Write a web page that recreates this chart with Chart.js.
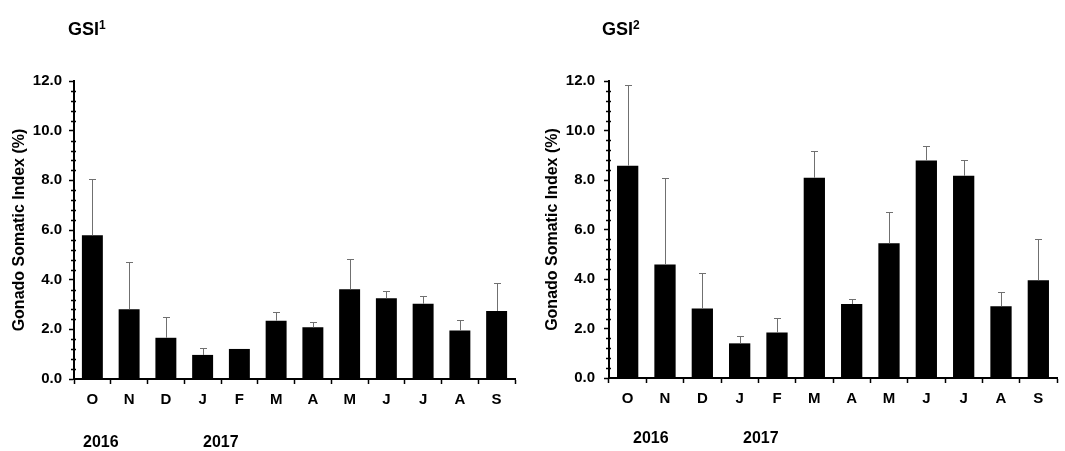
<!DOCTYPE html>
<html>
<head>
<meta charset="utf-8">
<script src="https://cdn.jsdelivr.net/npm/chart.js@4"></script>
<style>
  body { margin: 0; background: #fff; width: 1065px; height: 451px; position: relative; overflow: hidden; }
  canvas { position: absolute; top: 0; }
  .lbl { position: absolute; font-family: "Liberation Sans", Arial, sans-serif; font-weight: bold; color: #000; white-space: nowrap; line-height: 1; }
  .ttl { font-size: 18px; }
  .ttl sup { font-size: 12px; vertical-align: 6px; line-height: 0; }
  .yr { font-size: 16px; }
</style>
</head>
<body>
<canvas id="gsi1" width="530" height="451" style="left:0"></canvas>
<canvas id="gsi2" width="535" height="451" style="left:530px"></canvas>

<div class="lbl ttl" style="left:68px; top:20px">GSI<sup>1</sup></div>
<div class="lbl ttl" style="left:602px; top:20px">GSI<sup>2</sup></div>
<div class="lbl yr" style="left:83px; top:434px">2016</div>
<div class="lbl yr" style="left:203px; top:434px">2017</div>
<div class="lbl yr" style="left:633px; top:430px">2016</div>
<div class="lbl yr" style="left:743px; top:430px">2017</div>

<script>
const months = ['O', 'N', 'D', 'J', 'F', 'M', 'A', 'M', 'J', 'J', 'A', 'S'];
const yTicks = [0, 2, 4, 6, 8, 10, 12];

// mean GSI and upper standard deviation, Oct 2016 - Sep 2017
const gsi1 = [5.79, 2.81, 1.66, 0.97, 1.21, 2.35, 2.08, 3.61, 3.25, 3.03, 1.95, 2.74];
const sd1 = [2.25, 1.89, 0.85, 0.27, 0, 0.34, 0.20, 1.24, 0.29, 0.32, 0.43, 1.14];
const gsi2 = [8.58, 4.59, 2.81, 1.40, 1.84, 8.09, 2.99, 5.44, 8.79, 8.17, 2.90, 3.95];
const sd2 = [3.26, 3.48, 1.45, 0.31, 0.57, 1.07, 0.19, 1.28, 0.58, 0.64, 0.58, 1.65];

const FONT = '"Liberation Sans", Arial, sans-serif';

// upper error bars, read through the y scale
const errorBars = {
    id: 'errorBars',
    afterDatasetsDraw(chart, args, opts) {
        const ctx = chart.ctx;
        const y = chart.scales.y;
        const meta = chart.getDatasetMeta(0);
        const vals = chart.data.datasets[0].data;
        ctx.save();
        ctx.strokeStyle = '#707070';
        ctx.lineWidth = 1;
        meta.data.forEach((bar, i) => {
            const sd = opts.sd[i];
            if (!sd) return;
            const x = Math.round(bar.x) + 0.5;
            const top = Math.round(y.getPixelForValue(vals[i] + sd)) + 0.5;
            ctx.beginPath();
            ctx.moveTo(x, bar.y);
            ctx.lineTo(x, top);
            ctx.moveTo(x - 3.5, top);
            ctx.lineTo(x + 3.5, top);
            ctx.stroke();
        });
        ctx.restore();
    }
};

// minor ticks on y axis every 0.4
const minorTicks = {
    id: 'minorTicks',
    afterDraw(chart) {
        const ctx = chart.ctx;
        const y = chart.scales.y;
        const x0 = chart.chartArea.left;
        ctx.save();
        ctx.strokeStyle = '#000';
        ctx.lineWidth = 1.5;
        for (let k = 1; k < 30; k++) {
            if (k % 5 === 0) continue;
            const py = Math.round(y.getPixelForValue(k * 0.4)) + 0.5;
            ctx.beginPath();
            ctx.moveTo(x0 - 3, py);
            ctx.lineTo(x0 + 2, py);
            ctx.stroke();
        }
        ctx.restore();
    }
};

function makeChart(id, values, sd, box) {
    return new Chart(document.getElementById(id), {
        type: 'bar',
        data: {
            labels: months,
            datasets: [{
                data: values,
                backgroundColor: '#000',
                borderWidth: 0,
                barPercentage: 0.57,
                categoryPercentage: 1
            }]
        },
        options: {
            responsive: false,
            animation: false,
            layout: {
                padding: { top: box.top, right: box.right, left: 0, bottom: 0 }
            },
            plugins: {
                legend: { display: false },
                tooltip: { enabled: false },
                errorBars: { sd: sd }
            },
            scales: {
                x: {
                    offset: true,
                    grid: { offset: true, drawOnChartArea: false, color: '#000', tickLength: 5, tickWidth: 1.5 },
                    border: { color: '#000', width: 2 },
                    ticks: { color: '#000', padding: 7, font: { family: FONT, size: 15, weight: 'bold' } },
                    afterFit: s => { s.height = box.xh; }
                },
                y: {
                    min: 0,
                    max: 12,
                    afterBuildTicks: s => { s.ticks = yTicks.map(v => ({ value: v })); },
                    grid: { drawOnChartArea: false, color: '#000', tickLength: 5, tickWidth: 1.5 },
                    border: { color: '#000', width: 2 },
                    ticks: {
                        color: '#000',
                        padding: box.tickPad,
                        font: { family: FONT, size: 15, weight: 'bold' },
                        callback: v => v.toFixed(1)
                    },
                    title: {
                        display: true,
                        text: 'Gonado Somatic Index (%)',
                        color: '#000',
                        padding: { top: box.titlePad, bottom: 0 },
                        font: { family: FONT, size: 16, weight: 'bold' }
                    },
                    afterFit: s => { s.width = box.yw; }
                }
            }
        },
        plugins: [errorBars, minorTicks]
    });
}

makeChart('gsi1', gsi1, sd1, { top: 81, right: 15, xh: 72, yw: 74, tickPad: 7, titlePad: 10 });
makeChart('gsi2', gsi2, sd2, { top: 81, right: 8, xh: 73, yw: 79, tickPad: 9, titlePad: 13 });
</script>
</body>
</html>
